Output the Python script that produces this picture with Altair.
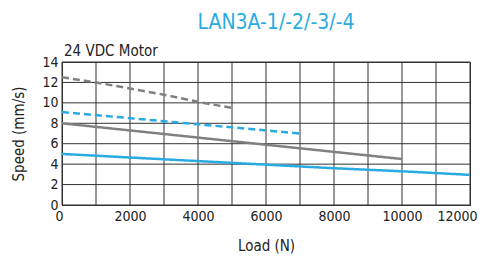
import altair as alt
import pandas as pd

series = ["gray_dashed", "blue_dashed", "gray_solid", "blue_solid"]
gray_dashed_x = [0, 1000, 2000, 3000, 4000, 5000]
gray_dashed_y = [12.5, 12.0, 11.4, 10.8, 10.1, 9.5]
blue_dashed_x = [0, 1000, 2000, 3000, 4000, 5000, 6000, 7000]
blue_dashed_y = [9.1, 8.8, 8.5, 8.2, 7.9, 7.6, 7.3, 7.0]
gray_solid_x = [0, 2000, 4000, 6000, 8000, 10000]
gray_solid_y = [8.0, 7.3, 6.6, 5.9, 5.2, 4.5]
blue_solid_x = [0, 2000, 4000, 6000, 8000, 10000, 12000]
blue_solid_y = [5.0, 4.65, 4.3, 3.95, 3.6, 3.3, 2.95]
x_ticks = list(range(0, 12001, 2000))
y_ticks = list(range(0, 15, 2))
x_grid = list(range(0, 12001, 1000))

rows = []
for name, xs, ys in [("gray_dashed", gray_dashed_x, gray_dashed_y),
                     ("blue_dashed", blue_dashed_x, blue_dashed_y),
                     ("gray_solid", gray_solid_x, gray_solid_y),
                     ("blue_solid", blue_solid_x, blue_solid_y)]:
    for x, y in zip(xs, ys):
        rows.append({"series": name, "load": x, "speed": y})
df = pd.DataFrame(rows)

FONT = "'DejaVu Sans Condensed', 'Roboto', sans-serif"
GRAY = "#808080"
BLUE = "#29abe2"

color_scale = alt.Scale(domain=series, range=[GRAY, BLUE, GRAY, BLUE])
dash_scale = alt.Scale(domain=series, range=[[7, 4], [7, 4], [1, 0], [1, 0]])
xs_scale = alt.Scale(domain=[0, 12000], nice=False)
ys_scale = alt.Scale(domain=[0, 14], nice=False)

x_axis = alt.Axis(title="Load (N)", values=x_ticks, grid=False, ticks=False,
                  labelPadding=4, titlePadding=15, format="d", labelOverlap=False,
                  labelFlush=True, labelFlushOffset=7)
y_axis = alt.Axis(title="Speed (mm/s)", values=y_ticks, grid=False, ticks=False,
                  labelPadding=4, titlePadding=15, labelOverlap=False,
                  labelFlush=False)

gx = pd.DataFrame({"v": x_grid})
gy = pd.DataFrame({"v": y_ticks})
vgrid = alt.Chart(gx).mark_rule(color="#333333", strokeWidth=1).encode(
    x=alt.X("v:Q", scale=xs_scale, axis=x_axis))
hgrid = alt.Chart(gy).mark_rule(color="#333333", strokeWidth=1).encode(
    y=alt.Y("v:Q", scale=ys_scale, axis=y_axis))

lines = alt.Chart(df).mark_line(strokeWidth=2.5).encode(
    x=alt.X("load:Q", scale=xs_scale, axis=x_axis),
    y=alt.Y("speed:Q", scale=ys_scale, axis=y_axis),
    color=alt.Color("series:N", scale=color_scale, legend=None),
    strokeDash=alt.StrokeDash("series:N", scale=dash_scale, legend=None),
    detail="series:N",
)

sub = alt.Chart(pd.DataFrame({"t": ["24 VDC Motor"]})).mark_text(
    align="left", baseline="alphabetic", font=FONT, fontSize=15, color="#222222"
).encode(x=alt.value(2), y=alt.value(-6), text="t:N")

box = alt.Chart(pd.DataFrame({"a": [1]})).mark_rect(
    fill=None, stroke="#333333", strokeWidth=1
).encode(x=alt.value(419), x2=alt.value(520), y=alt.value(20), y2=alt.value(123))

chart = alt.layer(vgrid, hgrid, lines, sub, box).properties(
    width=408, height=143,
    autosize=alt.AutoSizeParams(type="none"),
    padding={"left": 54, "top": 54, "right": 10, "bottom": 60},
    title=alt.TitleParams("LAN3A-1/-2/-3/-4", font=FONT, fontSize=21,
                          fontWeight="normal", color=BLUE, anchor="middle",
                          dx=10, offset=11),
).configure_view(stroke="#333333").configure_axis(
    labelFont=FONT, titleFont=FONT, labelFontSize=14, titleFontSize=15,
    labelColor="#222222", titleColor="#222222", titleFontWeight="normal",
    domainColor="#333333",
)

chart.save("out.html", embed_options={"renderer": "svg", "actions": False})
